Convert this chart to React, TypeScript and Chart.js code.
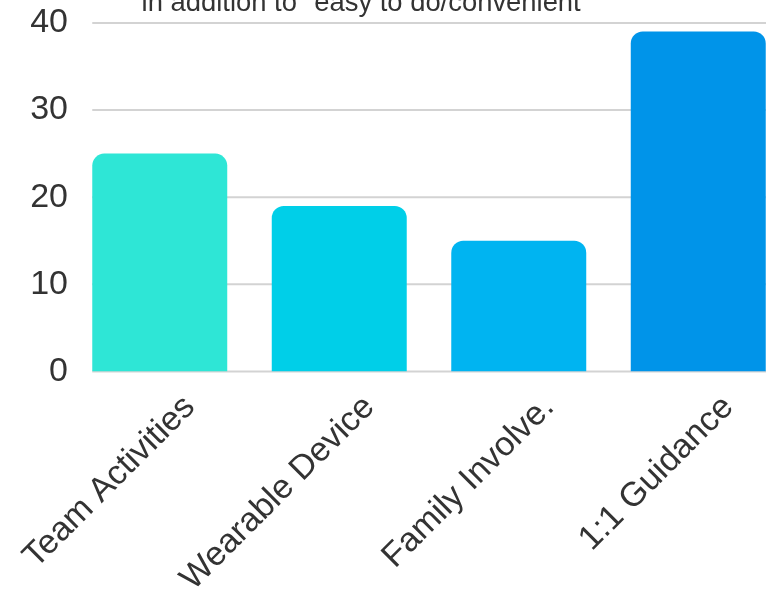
import { useEffect, useRef } from 'react';
import { Chart, registerables } from 'chart.js';

Chart.register(...registerables);

// ---- data ----
const categories = ['Team Activities', 'Wearable Device', 'Family Involve.', '1:1 Guidance'];
const counts = [25, 19, 15, 39];
const titleLines = ['in addition to "easy to do/convenient"'];
const yMin = 0;
const yMax = 40;
const yStep = 10;

// ---- styles ----
const BAR_COLORS = ['#2ee6d6', '#00cfe8', '#00b4f1', '#0094e9'];
const TEXT_COLOR = '#333333';
const GRID_COLOR = '#d3d3d3';
const FONT = '"Liberation Sans", Arial, sans-serif';

// y grid lines that begin at the first bar's left edge
const gridFromFirstBar = {
  id: 'gridFromFirstBar',
  beforeDatasetsDraw(chart: any) {
    const meta = chart.getDatasetMeta(0);
    const first = meta.data[0];
    if (!first) return;
    const p = first.getProps(['x', 'width'], true);
    const left = p.x - p.width / 2;
    const yScale = chart.scales.y;
    const ctx = chart.ctx;
    ctx.save();
    ctx.strokeStyle = GRID_COLOR;
    ctx.lineWidth = 2;
    yScale.ticks.forEach((_t: any, i: number) => {
      const py = yScale.getPixelForTick(i);
      ctx.beginPath();
      ctx.moveTo(left, py);
      ctx.lineTo(chart.chartArea.right, py);
      ctx.stroke();
    });
    ctx.restore();
  },
};

export default function App() {
  const canvasRef = useRef<HTMLCanvasElement | null>(null);

  useEffect(() => {
    if (!canvasRef.current) return;
    const chart = new Chart(canvasRef.current, {
      type: 'bar',
      data: {
        labels: categories,
        datasets: [
          {
            data: counts,
            backgroundColor: BAR_COLORS,
            borderRadius: 12,
            borderSkipped: 'start',
            categoryPercentage: 0.8,
            barPercentage: 0.94,
          },
        ],
      },
      options: {
        animation: false,
        responsive: true,
        maintainAspectRatio: false,
        layout: { padding: 0 },
        plugins: {
          legend: { display: false },
          tooltip: { enabled: false },
          title: {
            display: true,
            text: titleLines,
            color: TEXT_COLOR,
            font: { family: FONT, size: 27.4, weight: 'normal' },
            padding: { top: 0, bottom: 3 },
          },
        },
        scales: {
          x: {
            grid: { display: false, drawTicks: false },
            border: { display: false },
            ticks: {
              color: TEXT_COLOR,
              font: { family: FONT, size: 34 },
              minRotation: 45,
              maxRotation: 45,
              padding: 16,
              labelOffset: 30,
            },
          },
          y: {
            min: yMin,
            max: yMax,
            grid: { display: false, drawTicks: false },
            border: { display: false },
            ticks: {
              stepSize: yStep,
              color: TEXT_COLOR,
              font: { family: FONT, size: 34 },
              padding: 2,
            },
            afterFit: (scale: any) => {
              scale.width = 126;
            },
          },
        },
      },
      plugins: [gridFromFirstBar],
    });
    return () => chart.destroy();
  }, []);

  return (
    <div style={{ position: 'fixed', inset: 0, overflow: 'hidden', background: '#fff' }}>
      <div style={{ position: 'absolute', left: -56, top: -13, width: 844, height: 628 }}>
        <canvas ref={canvasRef} />
      </div>
    </div>
  );
}
